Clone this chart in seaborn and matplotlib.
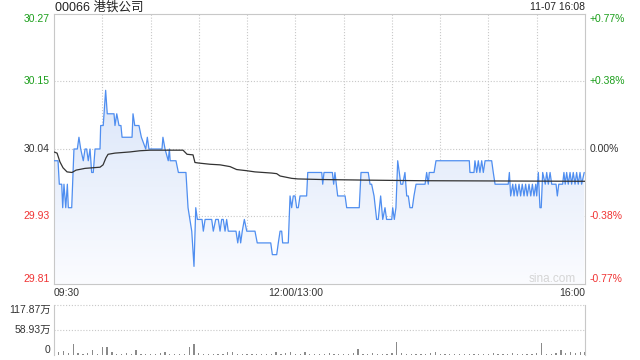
import numpy as np
import matplotlib
matplotlib.use("Agg")
import matplotlib.pyplot as plt
import seaborn as sns
from matplotlib.colors import LinearSegmentedColormap

sns.set_theme(style="white")
plt.rcParams["font.family"] = ["Liberation Sans", "Noto Sans CJK SC", "DejaVu Sans"]

# ---- data (trading minutes since 09:30, lunch break removed) ----
price_min = [0, 2.5, 3.3, 4.8, 5.4, 6.2, 7.3, 8.3, 8.9, 11, 12.4, 14.5, 15.5, 16.6, 18.2, 19.3,
             20.3, 21.3, 22.4, 23.4, 24.4, 25.5, 28.6, 29, 30.6, 32.1, 33.1, 37.3, 37.9, 39,
             40.4, 41.6, 42.3, 48.5, 49.1, 50.2, 52.8, 54.3, 57, 58, 59, 67.1, 67.7, 69, 71,
             71.7, 72.2, 75.8, 77.3, 82, 83.3, 85.6, 87, 88.1, 89.1, 92, 92.8, 93.9, 98, 99,
             100.5, 102.1, 103.2, 104.2, 105.2, 106.3, 107.3, 108.3, 113.1, 114.2, 115.2, 116,
             117, 118.3, 119.8, 124.9, 126.3, 134.7, 135.7, 138.4, 139.4, 140.5, 141.5, 142.1,
             145.6, 146.7, 147.7, 148.7, 149.8, 150.8, 151.8, 152.9, 157, 157.7, 166.4, 167,
             167.8, 173, 173.8, 174.6, 176.3, 180.9, 181.9, 189.7, 190.8, 195.3, 196.4, 197.4,
             198.9, 200.5, 201.5, 203, 204.3, 205.7, 206.7, 209.9, 210.5, 211.5, 212.5, 213.6,
             214.6, 215.5, 216.7, 218.1, 219.2, 220.2, 221.2, 222.7, 223.7, 225, 230.6, 231.6,
             232.6, 233.2, 236.2, 237.4, 258.1, 258.5, 261, 261.6, 262.7, 263.7, 264.7, 265.8,
             266.8, 267.9, 272, 273, 274.1, 282.3, 283, 283.8, 285.1, 285.9, 286.9, 287.9, 289,
             290, 291, 292.1, 293.1, 294.1, 295.2, 296.3, 297.3, 298.3, 299.4, 300, 301, 302,
             302.8, 303.7, 305.3, 306.2, 307.2, 308.3, 309.3, 312, 312.8, 313.7, 316.1, 316.9,
             317.7, 318.6, 319.6, 320.7, 321.7, 322.7, 323.8, 324.8, 325.8, 326.9, 327.9, 329.5]
price = [30.02, 30.02, 29.98, 29.98, 29.94, 29.98, 29.94, 29.98, 29.94, 29.94, 30.04, 30.04, 30.06,
         30.04, 30.02, 30.04, 30.04, 30.02, 30.04, 30.00, 30.00, 30.04, 30.04, 30.08, 30.08, 30.14,
         30.10, 30.10, 30.08, 30.10, 30.08, 30.08, 30.06, 30.06, 30.10, 30.08, 30.08, 30.06, 30.04,
         30.06, 30.04, 30.04, 30.06, 30.04, 30.02, 30.04, 30.02, 30.02, 30.00, 30.00, 29.94, 29.90,
         29.84, 29.94, 29.92, 29.92, 29.90, 29.92, 29.92, 29.90, 29.92, 29.92, 29.90, 29.92, 29.92,
         29.90, 29.92, 29.90, 29.90, 29.88, 29.90, 29.88, 29.90, 29.92, 29.90, 29.90, 29.88, 29.88,
         29.86, 29.86, 29.88, 29.90, 29.90, 29.88, 29.88, 29.96, 29.94, 29.96, 29.96, 29.94, 29.94,
         29.96, 29.96, 30.00, 30.00, 29.98, 30.00, 30.00, 29.98, 30.00, 29.96, 29.96, 29.94, 29.94,
         30.00, 30.00, 29.98, 29.98, 29.96, 29.92, 29.92, 29.96, 29.92, 29.94, 29.92, 29.92, 29.94,
         29.92, 29.94, 30.02, 30.00, 29.98, 29.98, 30.00, 29.96, 29.96, 29.94, 29.94, 29.96, 29.98,
         29.98, 30.00, 29.98, 30.00, 30.00, 30.02, 30.02, 30.00, 30.00, 30.02, 30.00, 30.02, 30.00,
         30.02, 30.00, 30.02, 30.02, 30.00, 29.98, 29.98, 30.00, 29.96, 29.98, 29.96, 29.98, 29.96,
         29.98, 29.96, 29.98, 29.96, 29.98, 29.96, 29.98, 29.96, 29.98, 29.96, 29.98, 29.96, 30.00,
         29.94, 29.94, 30.00, 29.98, 30.00, 29.98, 30.00, 29.98, 29.98, 29.96, 29.98, 29.98, 30.00,
         29.98, 30.00, 29.98, 30.00, 29.98, 30.00, 29.98, 30.00, 29.98, 30.00, 29.98, 30.00]
avg_min = [0, 1.9, 3.7, 5.6, 8.1, 11.2, 13.7, 19.3, 28.6, 30.5, 32.3, 33.6, 37.9, 47.2, 53.4,
           59.7, 80.2, 82.7, 86.4, 87.6, 90.1, 97, 103.2, 109.4, 113.5, 119.8, 124.9, 135.3,
           138.4, 140.5, 147.7, 151.6, 166.4, 193.3, 227.5, 330]
avg_price = [30.035, 30.033, 30.018, 30.008, 30.001, 30.000, 30.004, 30.007, 30.009, 30.013,
             30.025, 30.031, 30.033, 30.035, 30.037, 30.038, 30.038, 30.031, 30.030, 30.017,
             30.016, 30.014, 30.013, 30.010, 30.005, 30.003, 30.001, 29.999, 29.998, 29.994,
             29.990, 29.989, 29.988, 29.987, 29.986, 29.985]
vol_min = list(range(0, 331, 3))
vol = [25, 6, 9, 5, 27, 4, 3, 4, 11, 3, 18, 20, 6, 3, 2, 4, 2, 11, 3, 2, 3, 2, 4, 6, 2, 3, 2, 3,
       20, 25, 4, 3, 2, 3, 2, 3, 6, 8, 3, 2, 3, 2, 3, 2, 3, 2, 6, 3, 4, 8, 3, 2, 6, 3, 2, 3, 2, 4,
       2, 3, 2, 3, 4, 13, 3, 2, 4, 3, 2, 3, 5, 31, 4, 3, 2, 3, 2, 3, 4, 6, 3, 2, 3, 2, 3, 2, 3, 2,
       3, 2, 3, 4, 3, 2, 3, 4, 3, 2, 3, 2, 4, 28, 3, 2, 4, 11, 5, 6, 5, 6, 7]

y_ticks = [30.27, 30.155, 30.04, 29.925, 29.81]
y_labels = ["30.27", "30.15", "30.04", "29.93", "29.81"]
pct_labels = ["+0.77%", "+0.38%", "0.00%", "-0.38%", "-0.77%"]
x_ticks = [0, 150, 330]
x_labels = ["09:30", "12:00/13:00", "16:00"]
vol_ticks = [117.87, 58.93, 0]
vol_labels = ["117.87万", "58.93万", "0"]
title = "00066 港铁公司"
stamp = "11-07 16:08"

# ---- styling ----
GREEN, RED, DARK = "#1a9e1a", "#f03333", "#333333"
label_colors = [GREEN, GREEN, DARK, RED, RED]
GRID = "#c8c8c8"
dot = (0, (1, 1.6))

fig = plt.figure(figsize=(6.4, 3.6), dpi=100)
ax = fig.add_axes([54 / 640, 1 - 284 / 360, 531 / 640, 270 / 360])
ymin, ymax = 29.81, 30.27

# gradient fill under the price line
poly = ax.fill_between(price_min, price, ymin, color="none", lw=0)
cmap = LinearSegmentedColormap.from_list("g", ["#fbfcff", "#dbe6f9"])
grad = np.linspace(0, 1, 256).reshape(-1, 1)
img = ax.imshow(grad, extent=[0, 330, ymin, 30.14], aspect="auto", cmap=cmap,
                origin="lower", zorder=1)
img.set_clip_path(poly.get_paths()[0], transform=ax.transData)

for m in range(30, 330, 30):
    ax.axvline(m, color=GRID, ls=dot, lw=0.8, zorder=0.5)
for yv in y_ticks[1:4]:
    ax.axhline(yv, color=GRID, ls=dot, lw=0.8, zorder=0.5)

sns.lineplot(x=price_min, y=price, ax=ax, color="#4f8ef0", lw=0.9, estimator=None,
             sort=False, zorder=3)
sns.lineplot(x=avg_min, y=avg_price, ax=ax, color="#333333", lw=0.9, estimator=None,
             sort=False, zorder=4)

ax.set_xlim(0, 330)
ax.set_ylim(ymin, ymax)
ax.set_xticks([])
ax.set_yticks([])
ax.set_xlabel("")
ax.set_ylabel("")
for s in ax.spines.values():
    s.set_color(GRID)
    s.set_linewidth(0.8)

ytr = ax.get_yaxis_transform()
for i, (yv, lab, pl) in enumerate(zip(y_ticks, y_labels, pct_labels)):
    va = "top" if i == 0 else ("bottom" if i == 4 else "center")
    ax.text(-0.008, yv, lab, transform=ytr, ha="right", va=va, fontsize=7.5,
            color=label_colors[i])
    ax.text(1.009, yv, pl, transform=ytr, ha="left", va=va, fontsize=7.5,
            color=label_colors[i])

xtr = ax.get_xaxis_transform()
for xv, lab, ha in zip(x_ticks, x_labels, ["left", "center", "right"]):
    ax.text(xv, -0.032, lab, transform=xtr, ha=ha, va="center", fontsize=7.5, color=DARK)

ax.text(0.938, 0.02, "sina.com", transform=ax.transAxes, ha="center", va="center",
        fontsize=8.5, color="#d5d5d5")

fig.text(55 / 640, 1 - 7.5 / 360, title, fontsize=9, ha="left", va="center", color="#222222")
fig.text(585 / 640, 1 - 7.5 / 360, stamp, fontsize=7.5, ha="right", va="center",
         color="#222222")

# ---- volume panel ----
vax = fig.add_axes([54 / 640, 1 - 355 / 360, 531 / 640, 50 / 360])
vax.bar(vol_min, vol, width=0.8, color="#8a8a8a", lw=0)
vax.set_xlim(0, 330)
vax.set_ylim(0, vol_ticks[0])
vax.set_xticks([])
vax.set_yticks([])
for side in ["top", "bottom"]:
    vax.spines[side].set_visible(False)
for side in ["left", "right"]:
    vax.spines[side].set_color(GRID)
    vax.spines[side].set_linewidth(0.8)
for yv in vol_ticks[:2]:
    vax.axhline(yv, color=GRID, ls=dot, lw=0.8, clip_on=False)
vtr = vax.get_yaxis_transform()
for i, (yv, lab) in enumerate(zip(vol_ticks, vol_labels)):
    va = "top" if i == 0 else ("bottom" if i == 2 else "center")
    vax.text(-0.006, yv, lab, transform=vtr, ha="right", va=va, fontsize=7.5, color=DARK)

fig.savefig("out.png", dpi=100)
